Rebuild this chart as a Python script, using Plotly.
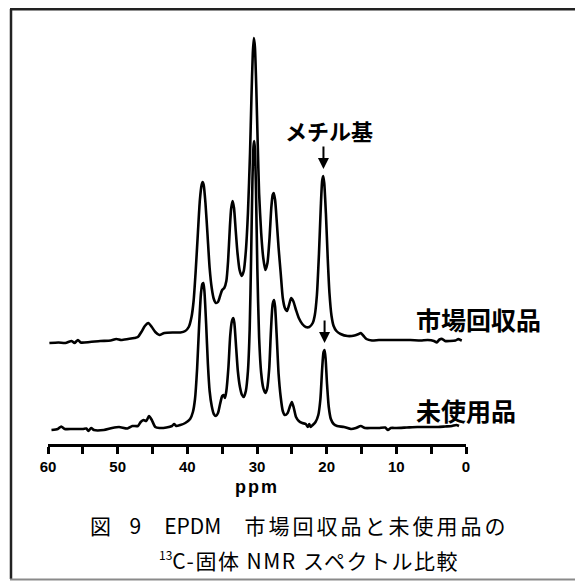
import plotly.graph_objects as go

# ---- data (ppm, intensity above each trace's own baseline) ----
recovered_points = [
    (59.8, 0), (58.5, 0.5), (57.5, 0), (56.6, 2), (56.2, 0), (55.7, 3), (55.3, 0.5), (54.0, 1),
    (52.5, 2), (51.0, 2.5), (50.2, 4), (49.5, 3), (48.5, 4), (47.6, 5), (47.1, 6), (46.6, 11),
    (46.1, 17), (45.6, 20), (45.1, 16), (44.6, 11), (44.0, 8), (43.3, 10), (42.0, 10.5), (41.0, 10.5),
    (40.3, 12), (39.8, 16), (39.4, 26), (39.1, 42), (38.8, 72), (38.5, 108), (38.2, 143), (37.95, 158),
    (37.8, 161), (37.65, 158), (37.4, 140), (37.1, 108), (36.8, 75), (36.5, 55), (36.2, 44), (35.9, 40),
    (35.6, 41), (35.3, 47), (35.0, 53), (34.7, 55), (34.4, 62), (34.15, 82), (33.9, 115), (33.7, 135),
    (33.5, 142), (33.3, 135), (33.05, 112), (32.8, 90), (32.5, 73), (32.2, 67), (31.9, 72), (31.6, 92),
    (31.3, 130), (31.0, 190), (30.8, 245), (30.6, 290), (30.45, 305), (30.3, 296), (30.1, 255), (29.9, 200),
    (29.7, 150), (29.4, 110), (29.1, 85), (28.8, 73), (28.5, 80), (28.2, 105), (27.95, 135), (27.75, 148),
    (27.6, 150), (27.4, 143), (27.15, 120), (26.9, 95), (26.6, 70), (26.3, 45), (26.0, 35), (25.7, 32),
    (25.4, 38), (25.1, 45), (24.8, 42), (24.4, 33), (24.0, 25), (23.5, 19), (23.0, 16), (22.5, 16),
    (22.0, 20), (21.7, 28), (21.4, 48), (21.1, 90), (20.85, 135), (20.65, 162), (20.5, 167), (20.35, 160),
    (20.1, 128), (19.85, 85), (19.6, 50), (19.3, 27), (19.0, 17), (18.6, 12), (18.0, 9), (17.0, 7),
    (16.0, 7.5), (15.4, 9), (15.1, 10), (14.7, 7), (14.3, 4), (13.5, 2.5), (12.5, 3), (11.0, 3),
    (9.5, 3), (8.0, 3), (6.5, 2.5), (5.5, 3), (4.6, 2), (4.2, 0.5), (3.8, 3.5), (3.4, 4),
    (3.0, 2), (2.3, 2), (1.5, 2.5), (1.1, 4), (0.8, 3), (0.6, 2.5),
]

unused_points = [
    (59.5, -1), (58.6, 0), (58.1, 2.5), (57.6, 0), (56.5, 0), (55.0, 0), (54.5, 0.5), (54.2, -2),
    (53.8, 1), (53.4, -1), (52.0, -1), (50.8, 1), (49.8, 2), (48.6, 0.5), (47.9, 3), (47.1, 3),
    (46.7, 7), (46.3, 9), (45.9, 8), (45.5, 13), (45.1, 9), (44.6, 2), (44.0, 1), (43.0, 1.5),
    (42.2, 3), (41.9, 5), (41.6, 3), (41.0, 4), (40.3, 6), (39.6, 10), (39.2, 17), (38.9, 30),
    (38.6, 60), (38.3, 105), (38.05, 135), (37.85, 145), (37.7, 146), (37.55, 138), (37.3, 105), (37.05, 65),
    (36.8, 38), (36.5, 23), (36.2, 15), (35.9, 13), (35.6, 16), (35.3, 25), (35.0, 33), (34.8, 34),
    (34.6, 31), (34.4, 38), (34.1, 62), (33.85, 93), (33.6, 108), (33.4, 111), (33.25, 106), (33.0, 82),
    (32.75, 58), (32.45, 42), (32.15, 34), (31.9, 32), (31.6, 38), (31.3, 58), (31.05, 100), (30.85, 170),
    (30.65, 250), (30.5, 283), (30.4, 288), (30.3, 280), (30.15, 240), (29.95, 160), (29.7, 92), (29.4, 56),
    (29.1, 41), (28.8, 36), (28.55, 40), (28.25, 60), (28.0, 98), (27.75, 125), (27.55, 129), (27.4, 122),
    (27.15, 90), (26.9, 55), (26.6, 32), (26.3, 18), (26.0, 14), (25.6, 16), (25.3, 22), (25.0, 27),
    (24.75, 22), (24.4, 12), (24.0, 8), (23.5, 6), (23.0, 5), (22.7, 2), (22.5, 5), (22.3, 2),
    (22.0, 4), (21.6, 7), (21.2, 14), (20.9, 30), (20.65, 60), (20.45, 77), (20.3, 79), (20.15, 70),
    (19.95, 45), (19.7, 22), (19.4, 10), (19.0, 5), (18.5, 3), (17.5, 2), (16.5, 0), (15.8, 1),
    (15.1, 3), (14.5, 1), (13.5, 1), (12.5, 1), (11.6, 1.5), (11.2, -1), (10.8, 1), (10.0, 1),
    (8.5, 1.5), (7.0, 2), (5.5, 2), (4.0, 2), (3.0, 2.5), (2.0, 3), (1.4, 4), (1.0, 3),
]

series_names = ["市場回収品", "未使用品"]
methyl_label = "メチル基"
methyl_ppm = [20.46, 20.3]          # arrow targets (upper, lower)
methyl_height = [167, 79]           # peak heights of the methyl signal
tick_values = [60, 55, 50, 45, 40, 35, 30, 25, 20, 15, 10, 5, 0]
tick_labels = ["60", "", "50", "", "40", "", "30", "", "20", "", "10", "", "0"]
x_title = "ppm"
caption_fig = "図"
caption_num = "9"
caption_polymer = "EPDM"
caption_rest = "市場回収品と未使用品の"
caption_iso = "13"
caption_line2 = "C-固体 NMR スペクトル比較"

# stacking offsets (layout)
offset_recovered = 101
offset_unused = 15

ppm_r = [p for p, _ in recovered_points]
int_r = [v + offset_recovered for _, v in recovered_points]
ppm_u = [p for p, _ in unused_points]
int_u = [v + offset_unused for _, v in unused_points]

fig = go.Figure()
line_style = dict(color="black", width=2.6, shape="spline", smoothing=0.6)
fig.add_trace(go.Scatter(x=ppm_r, y=int_r, mode="lines", line=line_style,
                         name=series_names[0], hoverinfo="skip"))
fig.add_trace(go.Scatter(x=ppm_u, y=int_u, mode="lines", line=line_style,
                         name=series_names[1], hoverinfo="skip"))

# the page body has an 8px margin: the figure starts at page (8, 8)
OFF = 8
W, H = 583 - OFF, 581 - OFF
L, R, T, B = 48 - OFF, 117, 20 - OFF, 137
pw, ph = W - L - R, H - T - B


def px(xpage):
    return (xpage - OFF - L) / pw


def py(ypage):
    return (H - B - (ypage - OFF)) / ph


jp = "Noto Sans CJK JP"

fig.update_layout(
    width=W, height=H,
    margin=dict(l=L, r=R, t=T, b=B, pad=0),
    paper_bgcolor="white", plot_bgcolor="white",
    showlegend=False,
    xaxis=dict(
        range=[60, 0], showgrid=False, zeroline=False,
        showline=True, linecolor="black", linewidth=2.6,
        ticks="outside", ticklen=7, tickwidth=2.6, tickcolor="black",
        tickmode="array", tickvals=tick_values, ticktext=tick_labels,
        tickfont=dict(family="Liberation Sans", size=15, color="black", weight="bold"),
        title=dict(text='<span style="letter-spacing:2px">' + x_title + '</span>',
                   font=dict(family="Liberation Sans", size=18, color="black", weight="bold"),
                   standoff=7),
    ),
    yaxis=dict(range=[0, ph], visible=False, fixedrange=True),
)

# frame around the figure
fig.add_shape(type="line", xref="paper", yref="paper", x0=px(11), x1=px(11), y0=py(9), y1=py(579),
              line=dict(color="#222", width=2.5))
fig.add_shape(type="line", xref="paper", yref="paper", x0=px(10), x1=px(600), y0=py(9.3), y1=py(9.3),
              line=dict(color="#222", width=2.5))
fig.add_shape(type="line", xref="paper", yref="paper", x0=px(10), x1=px(600), y0=py(579.5), y1=py(579.5),
              line=dict(color="#8a8a8a", width=1.8))

# methyl label + arrows
fig.add_annotation(x=px(328.5), y=py(130), xref="paper", yref="paper", showarrow=False,
                   xanchor="center", yanchor="middle",
                   text="<b>" + methyl_label + "</b>",
                   font=dict(family=jp, size=22, color="black"))
for ppm_val, h, off in zip(methyl_ppm, methyl_height, [offset_recovered, offset_unused]):
    fig.add_annotation(x=ppm_val, y=off + h + 7, xref="x", yref="y", text="",
                       showarrow=True, arrowhead=2, arrowsize=1.1, arrowwidth=2,
                       arrowcolor="black", ax=0, ay=-24, standoff=0)

# series labels
fig.add_annotation(x=px(414), y=py(318.5), xref="paper", yref="paper",
                   xanchor="left", yanchor="middle",
                   showarrow=False, text="<b>" + series_names[0] + "</b>",
                   font=dict(family=jp, size=25, color="black"))
fig.add_annotation(x=px(414), y=py(410), xref="paper", yref="paper",
                   xanchor="left", yanchor="middle",
                   showarrow=False, text="<b>" + series_names[1] + "</b>",
                   font=dict(family=jp, size=25, color="black"))

# caption
sp = '<span style="letter-spacing:3px">'
line1 = (sp + caption_fig + "  </span>" + caption_num + sp + "   </span>" + caption_polymer
         + sp + "   " + caption_rest + "</span>")
fig.add_annotation(x=px(299), y=py(525), xref="paper", yref="paper", showarrow=False,
                   xanchor="center", yanchor="middle",
                   text=line1, font=dict(family=jp, size=21, color="black"))
line2 = ('<sup><span style="font-size:12px">' + caption_iso + '</span></sup>'
         + '<span style="letter-spacing:1.5px">' + caption_line2 + '</span>')
fig.add_annotation(x=px(308.5), y=py(560), xref="paper", yref="paper", showarrow=False,
                   xanchor="center", yanchor="middle",
                   text=line2, font=dict(family=jp, size=21, color="black"))

fig.write_html("out.html")
